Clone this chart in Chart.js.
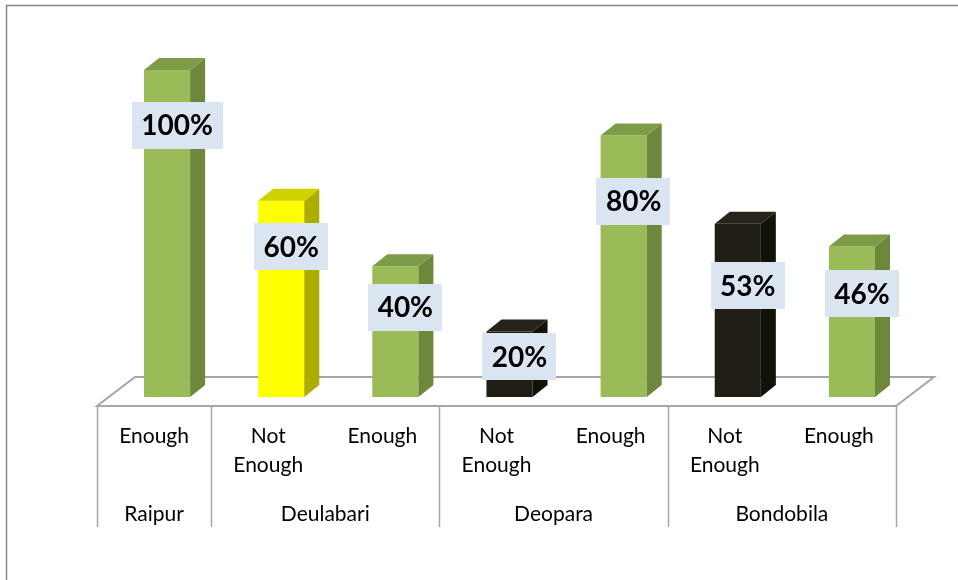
<!DOCTYPE html>
<html>
<head>
<meta charset="utf-8">
<script src="https://cdn.jsdelivr.net/npm/chart.js@4"></script>
<style>
  html, body { margin: 0; padding: 0; background: #ffffff; }
  #wrap { width: 958px; height: 580px; }
</style>
</head>
<body>
<div id="wrap"><canvas id="c" width="958" height="580"></canvas></div>
<script>
// Survey answers per village: share of households answering each option
const villages = ['Raipur', 'Deulabari', 'Deopara', 'Bondobila'];
const answersPerVillage = [1, 2, 2, 2];
const answers = [['Enough'], ['Not', 'Enough'], ['Enough'], ['Not', 'Enough'], ['Enough'], ['Not', 'Enough'], ['Enough']];
const shares = [100, 60, 40, 20, 80, 53, 46];

// ---- styling ----
const barTone = ['green', 'yellow', 'green', 'black', 'green', 'black', 'green'];
const shades = {
  green:  { front: '#9BBB59', top: '#7E9B48', side: '#6D883A' },
  yellow: { front: '#FFFF00', top: '#D2D200', side: '#ADAD00' },
  black:  { front: '#211F15', top: '#25231A', side: '#131209' }
};
const DEPTH_X = 15, DEPTH_Y = 12;          // bar depth projection
const FLOOR_SHIFT = 13;                    // bars stand this far right of the floor front edge
const FLOOR_DROP = 9;                      // floor front edge below bar base
const FLOOR_DX = 38, FLOOR_DY = 29;        // floor depth projection
const labelDrop = [55, 46, 41, 25, 66, 62, 47]; // label box centre below bar top
const AXIS_FONT = '21px Lato, "Liberation Sans", sans-serif';
const VALUE_FONT = 'bold 28px Lato, "Liberation Sans", sans-serif';

function poly(ctx, pts, fill) {
  ctx.beginPath();
  ctx.moveTo(pts[0][0], pts[0][1]);
  for (let i = 1; i < pts.length; i++) ctx.lineTo(pts[i][0], pts[i][1]);
  ctx.closePath();
  ctx.fillStyle = fill;
  ctx.fill();
}

const frame3d = {
  id: 'frame3d',
  beforeDraw(chart) {
    const ctx = chart.ctx;
    ctx.save();
    ctx.strokeStyle = '#868686';
    ctx.lineWidth = 1.5;
    ctx.beginPath();
    ctx.moveTo(6.5, chart.height);
    ctx.lineTo(6.5, 5.5);
    ctx.lineTo(chart.width, 5.5);
    ctx.stroke();
    ctx.restore();
  },
  beforeDatasetsDraw(chart) {
    const ctx = chart.ctx;
    const xs = chart.scales.x, ys = chart.scales.y;
    const fl = xs.left - FLOOR_SHIFT, fr = xs.right - FLOOR_SHIFT;
    const fy = ys.bottom + FLOOR_DROP;
    ctx.save();
    ctx.beginPath();
    ctx.moveTo(fl, fy);
    ctx.lineTo(fl + FLOOR_DX, fy - FLOOR_DY);
    ctx.lineTo(fr + FLOOR_DX, fy - FLOOR_DY);
    ctx.lineTo(fr, fy);
    ctx.closePath();
    ctx.fillStyle = '#ffffff';
    ctx.fill();
    ctx.strokeStyle = '#A6A6A6';
    ctx.lineWidth = 2;
    ctx.stroke();

    // group separators and village names
    const step = xs.width / answers.length;
    ctx.lineWidth = 1.5;
    ctx.strokeStyle = '#A6A6A6';
    let pos = 0;
    const bounds = [0];
    answersPerVillage.forEach(n => { pos += n; bounds.push(pos); });
    bounds.forEach(b => {
      const x = Math.round(fl + b * step) + 0.5;
      ctx.beginPath();
      ctx.moveTo(x, fy);
      ctx.lineTo(x, fy + 121);
      ctx.stroke();
    });
    ctx.fillStyle = '#000000';
    ctx.font = AXIS_FONT;
    ctx.textAlign = 'center';
    ctx.textBaseline = 'middle';
    villages.forEach((v, i) => {
      const cx = fl + (bounds[i] + bounds[i + 1]) / 2 * step;
      ctx.fillText(v, cx, fy + 108);
    });
    ctx.restore();
  },
  afterDatasetsDraw(chart) {
    const ctx = chart.ctx;
    const meta = chart.getDatasetMeta(0);
    ctx.save();
    meta.data.forEach((bar, i) => {
      const s = shades[barTone[i]];
      const x0 = bar.x - bar.width / 2, x1 = bar.x + bar.width / 2;
      const top = bar.y, base = bar.base;
      poly(ctx, [[x1, top], [x1 + DEPTH_X, top - DEPTH_Y], [x1 + DEPTH_X, base - DEPTH_Y], [x1, base]], s.side);
      poly(ctx, [[x0, top], [x0 + DEPTH_X, top - DEPTH_Y], [x1 + DEPTH_X, top - DEPTH_Y], [x1, top]], s.top);
    });
    // value labels
    ctx.font = VALUE_FONT;
    ctx.textAlign = 'center';
    ctx.textBaseline = 'middle';
    meta.data.forEach((bar, i) => {
      const txt = shares[i] + '%';
      const w = ctx.measureText(txt).width + 19;
      const h = 47;
      const cx = bar.x + 10;
      const cy = bar.y + labelDrop[i];
      ctx.fillStyle = '#DBE5F1';
      ctx.fillRect(Math.round(cx - w / 2), Math.round(cy - h / 2), Math.round(w), h);
      ctx.fillStyle = '#000000';
      ctx.fillText(txt, cx, cy + 1);
    });
    ctx.restore();
  }
};

new Chart(document.getElementById('c'), {
  type: 'bar',
  data: {
    labels: answers,
    datasets: [{
      data: shares,
      backgroundColor: barTone.map(t => shades[t].front),
      borderWidth: 0,
      categoryPercentage: 1,
      barPercentage: 0.404
    }]
  },
  options: {
    responsive: false,
    animation: false,
    devicePixelRatio: 1,
    layout: { padding: { left: 110, right: 49, top: 70, bottom: 0 } },
    plugins: { legend: { display: false }, tooltip: { enabled: false } },
    scales: {
      x: {
        grid: { display: false, drawTicks: false },
        border: { display: false },
        ticks: {
          color: '#000000',
          font: { family: 'Lato, "Liberation Sans", sans-serif', size: 21, lineHeight: '29px' },
          padding: 25,
          labelOffset: -FLOOR_SHIFT,
          maxRotation: 0,
          autoSkip: false
        },
        afterFit(scale) { scale.height = 183; }
      },
      y: {
        display: false,
        min: 0,
        max: 100
      }
    }
  },
  plugins: [frame3d]
});
</script>
</body>
</html>
